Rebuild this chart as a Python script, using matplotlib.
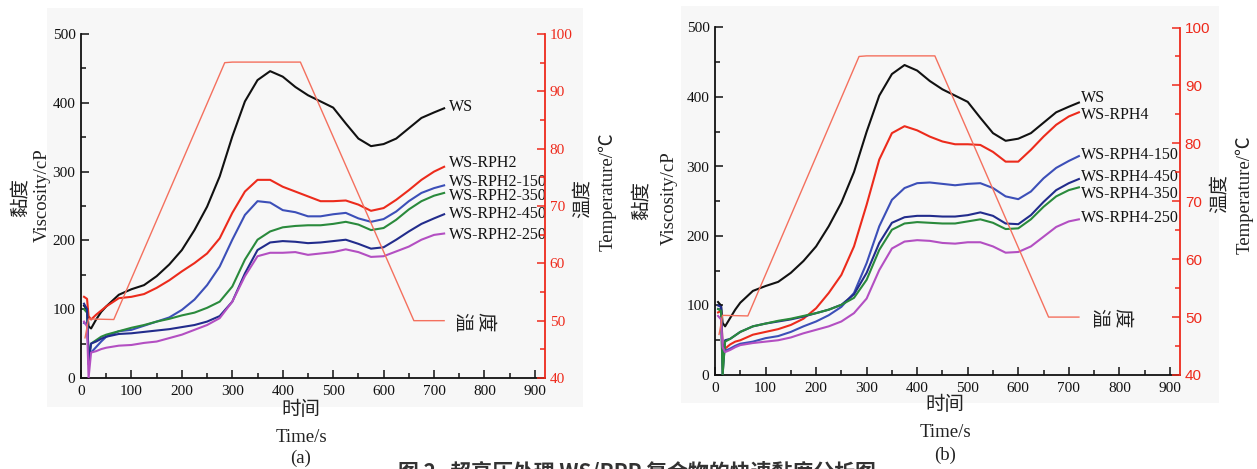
import matplotlib
matplotlib.use("Agg")
import matplotlib.pyplot as plt
from matplotlib.ticker import MultipleLocator
from matplotlib.patches import Rectangle

plt.rcParams['font.family'] = ['Liberation Serif', 'Noto Sans CJK SC', 'DejaVu Sans']
plt.rcParams['axes.unicode_minus'] = False

# ---------------- data ----------------
time_s = [6, 12, 15, 20, 30, 40, 50, 75, 100, 125, 150, 175, 200, 225, 250, 275, 300,
          325, 350, 375, 400, 425, 450, 475, 500, 525, 550, 575, 600, 625, 650, 675, 700, 720]

# panel (a)
ws_a = [105, 100, 75, 72, 85, 96, 104, 121, 129, 135, 148, 165, 186, 215, 249, 293, 351,
        402, 433, 446, 438, 423, 411, 402, 393, 370, 348, 337, 340, 348, 363, 378, 386, 392]
rph2_a = [118, 115, 90, 85, 92, 98, 104, 116, 118, 122, 131, 142, 155, 167, 181, 203, 240,
          271, 288, 288, 278, 271, 264, 257, 257, 258, 252, 243, 247, 259, 273, 288, 300, 307]
rph2_150_a = [80, 78, 40, 37, 45, 53, 60, 68, 70, 76, 82, 88, 99, 114, 135, 162, 201,
              237, 257, 255, 244, 241, 235, 235, 238, 240, 232, 227, 231, 242, 257, 269, 276, 280]
rph2_350_a = [100, 95, 30, 50, 55, 60, 63, 68, 73, 77, 82, 86, 91, 95, 102, 111, 133,
              172, 201, 213, 219, 221, 222, 222, 224, 227, 223, 215, 218, 230, 245, 257, 265, 269]
rph2_450_a = [108, 100, 20, 50, 53, 57, 60, 64, 65, 67, 69, 71, 74, 77, 82, 90, 111,
              152, 186, 197, 199, 198, 196, 197, 199, 201, 195, 188, 190, 201, 213, 224, 232, 238]
rph2_250_a = [82, 75, 0, 37, 39, 42, 44, 47, 48, 51, 53, 58, 63, 70, 77, 87, 111,
              148, 177, 182, 182, 183, 179, 181, 183, 187, 183, 176, 177, 184, 191, 201, 208, 210]

# panel (b)
ws_b = [105, 100, 75, 70, 82, 94, 104, 121, 128, 134, 147, 164, 185, 214, 248, 292, 350,
        402, 433, 446, 438, 423, 411, 402, 393, 370, 348, 337, 340, 348, 363, 378, 386, 392]
rph4_b = [90, 92, 45, 38, 44, 48, 50, 58, 62, 66, 72, 81, 96, 118, 144, 185, 245,
          310, 348, 358, 352, 343, 336, 332, 332, 331, 321, 307, 307, 324, 343, 360, 372, 378]
rph4_150_b = [95, 95, 40, 35, 38, 42, 45, 48, 53, 56, 62, 70, 77, 86, 98, 118, 161,
              214, 252, 269, 276, 277, 275, 273, 275, 276, 269, 257, 253, 264, 283, 298, 308, 315]
rph4_450_b = [100, 98, 0, 50, 52, 57, 62, 70, 74, 77, 80, 84, 89, 94, 101, 116, 147,
              190, 219, 227, 229, 229, 228, 228, 230, 234, 229, 218, 217, 230, 249, 266, 276, 282]
rph4_350_b = [95, 92, 0, 48, 52, 57, 62, 70, 74, 78, 81, 85, 89, 94, 101, 111, 137,
              180, 209, 218, 220, 219, 218, 218, 221, 224, 219, 210, 211, 224, 242, 257, 266, 270]
rph4_250_b = [85, 80, 40, 33, 36, 40, 43, 46, 48, 50, 54, 60, 65, 70, 77, 89, 110,
              151, 182, 192, 194, 193, 190, 189, 191, 191, 185, 176, 177, 185, 199, 213, 221, 224]

# temperature program (same in both panels)
temp_time = [8, 15, 65, 285, 300, 435, 660, 720]
temp_val = [47, 50.3, 50.2, 95.0, 95.1, 95.1, 50.0, 50.0]

labels_a = ['WS', 'WS-RPH2', 'WS-RPH2-150', 'WS-RPH2-350', 'WS-RPH2-450', 'WS-RPH2-250']
labels_b = ['WS', 'WS-RPH4', 'WS-RPH4-150', 'WS-RPH4-450', 'WS-RPH4-350', 'WS-RPH4-250']
series_a = [ws_a, rph2_a, rph2_150_a, rph2_350_a, rph2_450_a, rph2_250_a]
series_b = [ws_b, rph4_b, rph4_150_b, rph4_450_b, rph4_350_b, rph4_250_b]
colors_a = ['#111111', '#ec2b1c', '#3c4fb8', '#2a8a3c', '#222c8c', '#b34fc2']
colors_b = ['#111111', '#ec2b1c', '#3c4fb8', '#222c8c', '#2a8a3c', '#b34fc2']
label_y_a = [394, 312, 285, 264, 238, 208]
label_y_b = [399, 374, 316, 285, 260, 226]

TEMP_COLOR = '#f4705e'
AX_RED = '#ee2a1c'

fig = plt.figure(figsize=(12.57, 4.69), dpi=100)

# light panel backgrounds
fig.patches.append(Rectangle((47 / 1257, 1 - 407 / 469), (583 - 47) / 1257, (407 - 8) / 469,
                             transform=fig.transFigure, facecolor='#f7f7f7', edgecolor='none', zorder=-5))
fig.patches.append(Rectangle((681 / 1257, 1 - 403 / 469), (1219 - 681) / 1257, (403 - 6) / 469,
                             transform=fig.transFigure, facecolor='#f7f7f7', edgecolor='none', zorder=-5))


def make_panel(rect, series, colors, labels, label_y, label_x, wendu_x, panel_letter,
               ylab_pos, tlab_pos, xlab_x, right_family):
    ax = fig.add_axes(rect)
    ax.patch.set_alpha(0)
    for vals, c in zip(series, colors):
        ax.plot(time_s, vals, color=c, lw=1.5, zorder=3)
    ax.set_xlim(0, 920)
    ax.set_ylim(0, 500)
    ax.xaxis.set_major_locator(MultipleLocator(100))
    ax.xaxis.set_minor_locator(MultipleLocator(50))
    ax.yaxis.set_major_locator(MultipleLocator(100))
    ax.yaxis.set_minor_locator(MultipleLocator(50))
    ax.tick_params(which='both', direction='in', labelsize=11, width=1.1, colors='#111111')
    ax.tick_params(which='major', length=6)
    ax.tick_params(which='minor', length=3.5)
    ax.tick_params(axis='y', which='both', right=False, pad=4)
    ax.tick_params(axis='x', which='both', top=False, pad=5)
    ax.spines['top'].set_visible(False)
    ax.spines['right'].set_visible(False)
    for s in ('left', 'bottom'):
        ax.spines[s].set_linewidth(1.3)
        ax.spines[s].set_color('#111111')

    for lab, ly in zip(labels, label_y):
        ax.text(label_x, ly, lab, fontsize=11.5, va='center', ha='left', color='#111111')

    ax2 = ax.twinx()
    ax2.plot(temp_time, temp_val, color=TEMP_COLOR, lw=1.0, zorder=2)
    ax2.set_ylim(40, 100)
    ax2.yaxis.set_major_locator(MultipleLocator(10))
    ax2.yaxis.set_minor_locator(MultipleLocator(5))
    ax2.tick_params(which='both', direction='in', colors=AX_RED, labelsize=11, width=1.1)
    ax2.tick_params(which='major', length=6)
    ax2.tick_params(which='minor', length=3.5)
    for t in ax2.get_yticklabels():
        t.set_family(right_family)
    ax2.spines['right'].set_color(AX_RED)
    ax2.spines['right'].set_linewidth(1.3)
    ax2.spines['top'].set_visible(False)
    ax2.spines['left'].set_visible(False)
    ax2.spines['bottom'].set_visible(False)
    # in-plot temperature label (two rotated glyphs)
    ax2.text(wendu_x[0], 49.8, '温', fontsize=14, rotation=-90, ha='center', va='center', color='#222222')
    ax2.text(wendu_x[1], 49.8, '度', fontsize=14, rotation=-90, ha='center', va='center', color='#222222')

    # axis titles
    fig.text(ylab_pos[0] / 1257, 1 - ylab_pos[2] / 469, '黏度', rotation=90, ha='center', va='center',
             fontsize=14, color='#222222')
    fig.text(ylab_pos[1] / 1257, 1 - ylab_pos[3] / 469, 'Viscosity/cP', rotation=90, ha='center',
             va='center', fontsize=13.5, color='#222222')
    fig.text(tlab_pos[0] / 1257, 1 - tlab_pos[2] / 469, '温度', rotation=90, ha='center', va='center',
             fontsize=14, color='#222222')
    fig.text(tlab_pos[1] / 1257, 1 - tlab_pos[3] / 469, 'Temperature/℃', rotation=90, ha='center',
             va='center', fontsize=13.5, color='#222222')
    fig.text(xlab_x[0] / 1257, 1 - xlab_x[1] / 469, '时间', ha='center', va='center', fontsize=14,
             color='#222222')
    fig.text(xlab_x[0] / 1257, 1 - xlab_x[2] / 469, 'Time/s', ha='center', va='center', fontsize=13.5,
             color='#222222')
    fig.text(xlab_x[0] / 1257, 1 - xlab_x[3] / 469, panel_letter, ha='center', va='center',
             fontsize=13.5, color='#222222')
    return ax


make_panel([81 / 1257, 1 - 378 / 469, 464 / 1257, 344 / 469], series_a, colors_a, labels_a,
           label_y_a, 730, (752, 800), '(a)',
           (21, 42, 197, 195), (583, 607, 199, 192), (301, 410, 437, 458),
           ['Liberation Serif'])
make_panel([715 / 1257, 1 - 375 / 469, 465 / 1257, 347.5 / 469], series_b, colors_b, labels_b,
           label_y_b, 724, (756, 804), '(b)',
           (642, 669, 200, 198), (1220, 1244, 193, 195), (945, 405, 432, 455),
           ['Liberation Sans'])

fig.text(637 / 1257, 1 - 461 / 469, '图 2   超高压处理 WS/RPP 复合物的快速黏度分析图', ha='center', va='top',
         fontsize=15, color='#333333', family=['Noto Sans CJK SC', 'DejaVu Sans'], fontweight='bold')

fig.savefig('out.png', dpi=100)
